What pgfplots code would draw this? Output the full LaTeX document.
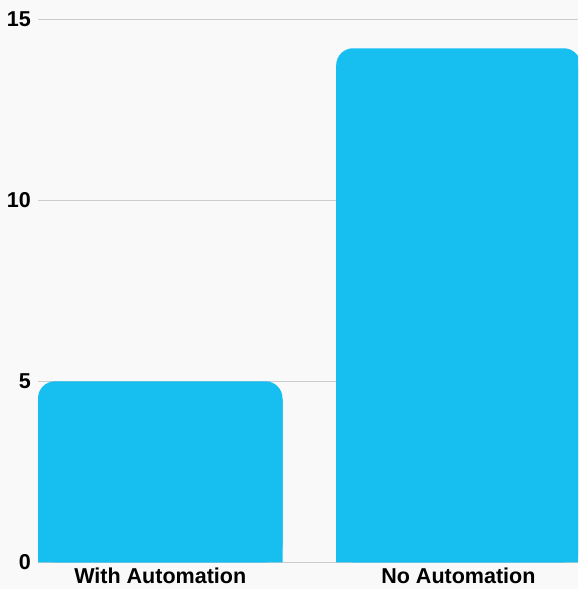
\documentclass[border=0pt]{standalone}
\usepackage{pgfplots}
\pgfplotsset{compat=1.18}
\usepackage{fontspec}
\setmainfont{Liberation Sans}
\definecolor{barc}{HTML}{17BEF0}
\definecolor{bg}{HTML}{F9F9F9}
\definecolor{gridc}{HTML}{CCCCCC}
\begin{document}
\begin{tikzpicture}
\fill[bg] (-38bp,-26.7bp) rectangle (540bp,562.3bp);
\begin{axis}[
  at={(0,0)}, anchor=south west,
  scale only axis, width=540bp, height=543bp,
  xmin=-0.41, xmax=1.401, ymin=0, ymax=15,
  axis line style={draw=none},
  ytick={0,5,10,15}, xtick={0,1},
  xticklabels={With Automation, No Automation},
  major tick length=0pt,
  ymajorgrids, grid style={gridc, line width=1bp},
  tick label style={font=\fontsize{21.6}{25}\selectfont\bfseries},
  /pgf/number format/assume math mode=true,
  yticklabel style={anchor=east, inner sep=0pt, xshift=-7bp},
  xticklabel style={anchor=north, inner sep=0pt, yshift=-5bp},
  ybar, bar width=244.5bp,
  clip=true,
]
\addplot[fill=barc, draw=none, bar shift=0pt, rounded corners=17bp] coordinates {(0,5) (1,14.2)};
\addplot[fill=barc, draw=none, bar shift=0pt] coordinates {(0,4.5) (1,13.7)};
\end{axis}
\end{tikzpicture}
\end{document}
